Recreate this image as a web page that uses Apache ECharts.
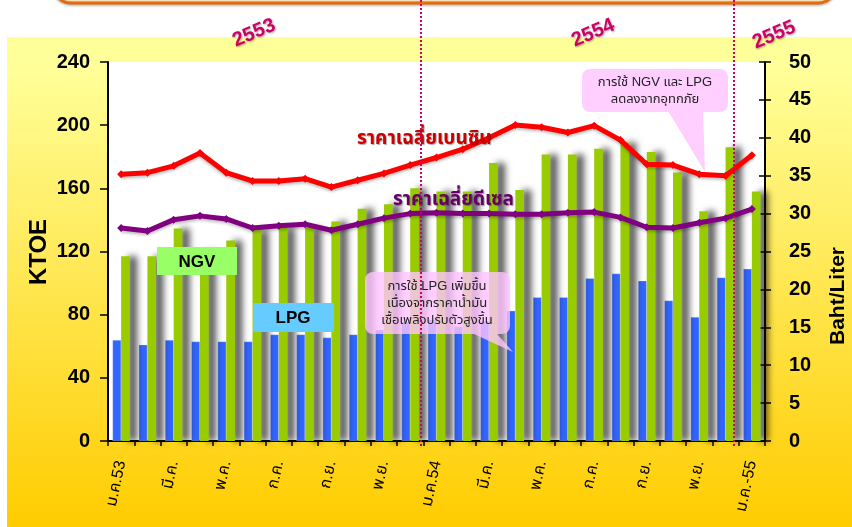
<!DOCTYPE html>
<html>
<head>
<meta charset="utf-8">
<script src="https://cdn.jsdelivr.net/npm/echarts@6/dist/echarts.min.js"></script>
<style>
  html, body { margin: 0; padding: 0; background: #fff; }
  #chart { width: 852px; height: 527px; }
</style>
</head>
<body>
<div id="chart"></div>
<script>
// months Jan 2010 (2553) .. Jan 2012 (2555)
const months = ['ม.ค.53', 'ก.พ.', 'มี.ค.', 'เม.ย.', 'พ.ค.', 'มิ.ย.', 'ก.ค.', 'ส.ค.', 'ก.ย.', 'ต.ค.', 'พ.ย.', 'ธ.ค.',
  'ม.ค.54', 'ก.พ.', 'มี.ค.', 'เม.ย.', 'พ.ค.', 'มิ.ย.', 'ก.ค.', 'ส.ค.', 'ก.ย.', 'ต.ค.', 'พ.ย.', 'ธ.ค.', 'ม.ค.-55'];
const lpg = [64, 61, 64, 63, 63, 63, 67.5, 67.5, 65.5, 67.5, 70.5, 75.5, 77, 72.5, 76, 82.5, 91, 91, 103, 106, 101.5, 89, 78.5, 103.5, 109];
const ngv = [117, 117, 134.5, 120, 127, 133.5, 135, 135, 139, 147, 150, 160, 158, 158, 176, 159, 181.5, 181.5, 185, 189, 183, 170, 145.5, 186, 158];
const benzin = [35.2, 35.4, 36.3, 38.0, 35.4, 34.3, 34.3, 34.6, 33.5, 34.4, 35.3, 36.4, 37.4, 38.5, 40.0, 41.7, 41.4, 40.7, 41.6, 39.7, 36.5, 36.4, 35.2, 35.0, 37.7];
const diesel = [28.1, 27.7, 29.2, 29.7, 29.3, 28.1, 28.4, 28.6, 27.8, 28.6, 29.4, 30.0, 30.1, 30.0, 30.0, 29.9, 29.9, 30.1, 30.2, 29.5, 28.2, 28.1, 28.8, 29.4, 30.6];
const leftTicks = [0, 240, 40];
const rightTicks = [0, 50, 5];
const years = ['2553', '2554', '2555'];

const FONT = 'Arial, "Liberation Sans", "Noto Sans Thai", "Noto Sans", sans-serif';

const chart = echarts.init(document.getElementById('chart'));

function yearText(x, y, txt) {
  return {
    type: 'text', x: x, y: y, rotation: 0.4, z: 50,
    style: {
      text: txt, fill: '#CC0066', font: 'bold 20px ' + FONT,
      align: 'center', verticalAlign: 'middle',
      textShadowColor: 'rgba(0,0,0,0.35)', textShadowOffsetX: 1, textShadowOffsetY: 1, textShadowBlur: 2
    }
  };
}

function axisTitle(x, y, txt, size) {
  return {
    type: 'text', x: x, y: y, rotation: Math.PI / 2, z: 50,
    style: { text: txt, fill: '#000', font: 'bold ' + size + 'px ' + FONT, align: 'center', verticalAlign: 'middle' }
  };
}

function dotted(x) {
  return {
    type: 'line', z: 40,
    shape: { x1: x, y1: 0, x2: x, y2: 448 },
    style: { stroke: '#CC0066', lineWidth: 2, lineDash: [2, 2] }
  };
}

chart.setOption({
  backgroundColor: {
    type: 'linear', x: 0, y: 0, x2: 0, y2: 1,
    colorStops: [
      { offset: 0, color: '#ffffff' },
      { offset: 0.07, color: '#ffffff' },
      { offset: 0.0701, color: '#FFFF99' },
      { offset: 0.13, color: '#FFFF99' },
      { offset: 1, color: '#FFCC00' }
    ]
  },
  animation: false,
  grid: {
    left: 108, right: 87, top: 62, bottom: 86,
    show: true, backgroundColor: '#ffffff', borderWidth: 0
  },
  xAxis: {
    type: 'category',
    data: months,
    axisLine: { lineStyle: { color: '#000', width: 2 } },
    axisTick: { show: true, interval: 0, length: 5, lineStyle: { color: '#000', width: 1.5 } },
    axisLabel: {
      interval: 1, rotate: 78, margin: 20,
      color: '#000', fontSize: 16, fontFamily: FONT
    }
  },
  yAxis: [
    {
      type: 'value', min: leftTicks[0], max: leftTicks[1], interval: leftTicks[2],
      axisLine: { show: true, lineStyle: { color: '#000', width: 2 } },
      axisTick: { show: true, length: 8, lineStyle: { color: '#000', width: 1.5 } },
      axisLabel: { color: '#000', fontSize: 20, fontWeight: 'bold', fontFamily: FONT, margin: 18 },
      splitLine: { show: false }
    },
    {
      type: 'value', position: 'right', min: rightTicks[0], max: rightTicks[1], interval: rightTicks[2],
      axisLine: { show: true, lineStyle: { color: '#000', width: 2 } },
      axisTick: { show: true, length: 6, lineStyle: { color: '#000', width: 1.5 } },
      axisLabel: { color: '#000', fontSize: 20, fontWeight: 'bold', fontFamily: FONT, margin: 24 },
      splitLine: { show: false }
    },
    {
      type: 'value', position: 'right', min: rightTicks[0], max: rightTicks[1], interval: rightTicks[2],
      axisLine: { show: false },
      axisTick: { show: true, inside: true, length: 6, lineStyle: { color: '#000', width: 1.5 } },
      axisLabel: { show: false },
      splitLine: { show: false }
    }
  ],
  series: [
    {
      name: 'LPG', type: 'bar', data: lpg, barGap: '0%', barCategoryGap: '34%',
      itemStyle: { color: '#3366FF', borderColor: 'rgba(255,255,255,0.5)', borderWidth: 0.5 }
    },
    {
      name: 'NGV', type: 'bar', data: ngv,
      itemStyle: {
        color: '#99CC00',
        shadowColor: 'rgba(0,0,0,0.7)', shadowBlur: 7, shadowOffsetX: 7, shadowOffsetY: 0
      }
    },
    {
      name: 'ราคาเฉลี่ยเบนซิน', type: 'line', yAxisIndex: 1, data: benzin, z: 5,
      symbol: 'diamond', symbolSize: 8,
      lineStyle: { color: '#FF0000', width: 5, shadowColor: 'rgba(0,0,0,0.25)', shadowBlur: 3, shadowOffsetY: 2 },
      itemStyle: { color: '#FF0000' }
    },
    {
      name: 'ราคาเฉลี่ยดีเซล', type: 'line', yAxisIndex: 1, data: diesel, z: 5,
      symbol: 'diamond', symbolSize: 8,
      lineStyle: { color: '#800080', width: 5, shadowColor: 'rgba(0,0,0,0.25)', shadowBlur: 3, shadowOffsetY: 2 },
      itemStyle: { color: '#800080' }
    }
  ],
  graphic: [
    { type: 'rect', z: -5, shape: { x: 0, y: 37, width: 7, height: 490 }, style: { fill: '#ffffff' } },
    {
      type: 'rect', z: 30,
      shape: { x: 53, y: -40, width: 783, height: 43, r: 18 },
      style: { fill: '#FCE4C0', stroke: '#E46C0A', lineWidth: 3, shadowColor: 'rgba(0,0,0,0.3)', shadowBlur: 3, shadowOffsetY: 1 }
    },
    axisTitle(39, 252, 'KTOE', 24),
    axisTitle(838, 296, 'Baht/Liter', 21),
    yearText(254, 33, years[0]),
    yearText(593, 33, years[1]),
    yearText(774, 35, years[2]),
    // NGV / LPG tags
    { type: 'rect', z: 20, shape: { x: 157, y: 247, width: 80, height: 28 }, style: { fill: '#99FF66' } },
    {
      type: 'text', z: 21, x: 197, y: 262,
      style: { text: 'NGV', font: 'bold 17px ' + FONT, fill: '#000', align: 'center', verticalAlign: 'middle',
        textShadowColor: 'rgba(0,0,0,0.3)', textShadowOffsetX: 1, textShadowOffsetY: 1 }
    },
    { type: 'rect', z: 20, shape: { x: 253, y: 303, width: 81, height: 29 }, style: { fill: '#66CCFF' } },
    {
      type: 'text', z: 21, x: 293, y: 318,
      style: { text: 'LPG', font: 'bold 17px ' + FONT, fill: '#000', align: 'center', verticalAlign: 'middle',
        textShadowColor: 'rgba(0,0,0,0.3)', textShadowOffsetX: 1, textShadowOffsetY: 1 }
    },
    // callout LPG
    { type: 'rect', z: 20, shape: { x: 365, y: 272, width: 145, height: 62, r: 8 }, style: { fill: 'rgba(255,196,255,0.8)' } },
    { type: 'polygon', z: 20, shape: { points: [[474, 334], [497, 334], [513, 352]] }, style: { fill: 'rgba(255,196,255,0.8)' } },
    {
      type: 'text', z: 21, x: 437, y: 303,
      style: { text: 'การใช้ LPG เพิ่มขึ้น\nเนื่องจากราคาน้ำมัน\nเชื้อเพลิงปรับตัวสูงขึ้น', font: '13px ' + FONT,
        fill: '#222', align: 'center', verticalAlign: 'middle', lineHeight: 17 }
    },
    // callout flood
    { type: 'rect', z: 20, shape: { x: 582, y: 69, width: 146, height: 43, r: 8 }, style: { fill: 'rgba(255,204,255,0.95)' } },
    { type: 'polygon', z: 20, shape: { points: [[668, 111], [703, 111], [705, 172]] }, style: { fill: 'rgba(255,204,255,0.95)' } },
    {
      type: 'text', z: 21, x: 655, y: 91,
      style: { text: 'การใช้ NGV และ LPG\nลดลงจากอุทกภัย', font: '13px ' + FONT,
        fill: '#222', align: 'center', verticalAlign: 'middle', lineHeight: 17 }
    },
    // series names
    {
      type: 'text', z: 21, x: 357, y: 139,
      style: { text: 'ราคาเฉลี่ยเบนซิน', font: 'bold 19px ' + FONT, fill: '#CC0000', verticalAlign: 'middle',
        textShadowColor: 'rgba(0,0,0,0.35)', textShadowOffsetX: 1, textShadowOffsetY: 1, textShadowBlur: 1 }
    },
    {
      type: 'text', z: 21, x: 393, y: 200,
      style: { text: 'ราคาเฉลี่ยดีเซล', font: 'bold 19px ' + FONT, fill: '#660066', verticalAlign: 'middle',
        textShadowColor: 'rgba(0,0,0,0.35)', textShadowOffsetX: 1, textShadowOffsetY: 1, textShadowBlur: 1 }
    },
    dotted(421),
    dotted(734)
  ]
});
</script>
</body>
</html>
